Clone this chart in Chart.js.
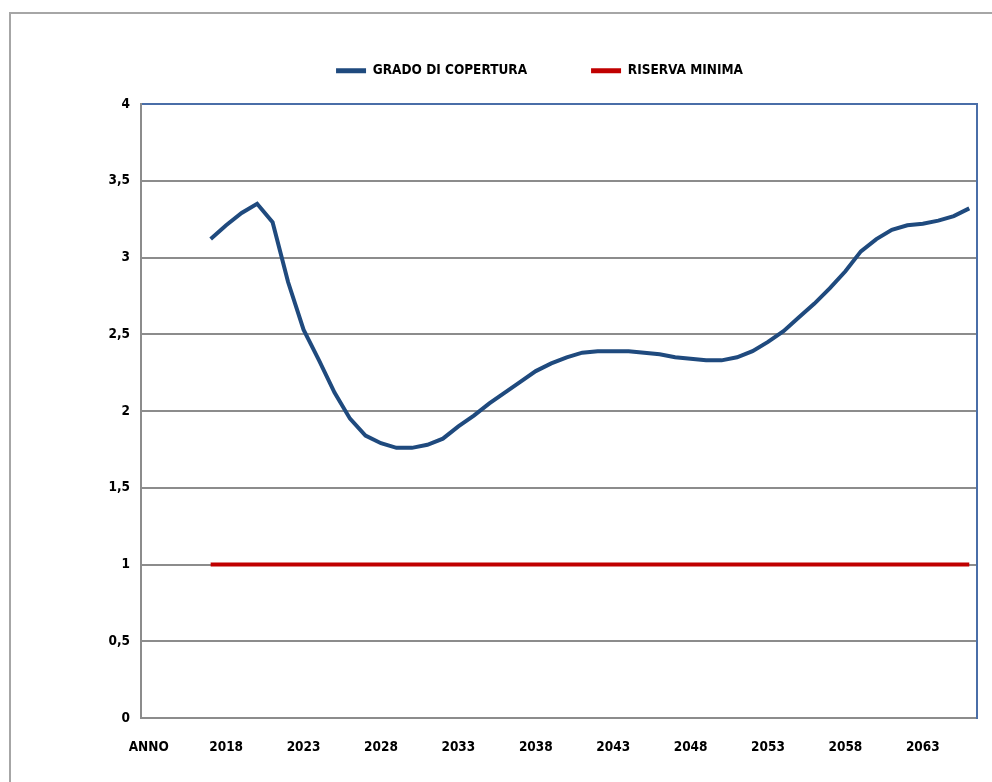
<!DOCTYPE html>
<html lang="it">
<head>
<meta charset="UTF-8">
<title>Grado di copertura</title>
<script src="https://cdn.jsdelivr.net/npm/chart.js"></script>
<style>
    body { margin: 0; padding: 0; background: #fff; overflow: hidden; }
    #wrap { position: relative; width: 992px; height: 782px; }
    #frame { position: absolute; left: 9px; top: 12px; width: 1000px; height: 800px; border: 2px solid #a6a6a6; box-sizing: border-box; }
    canvas { position: absolute; left: 0; top: 0; }
</style>
</head>
<body>
<div id="wrap">
    <div id="frame"></div>
    <canvas id="chart" width="992" height="782"></canvas>
</div>
<script>
// categorie: la prima e' l'intestazione "ANNO", poi gli anni
const anni = ['ANNO', '2014', '2015', '2016', '2017', '2018', '2019', '2020', '2021', '2022',
    '2023', '2024', '2025', '2026', '2027', '2028', '2029', '2030', '2031', '2032',
    '2033', '2034', '2035', '2036', '2037', '2038', '2039', '2040', '2041', '2042',
    '2043', '2044', '2045', '2046', '2047', '2048', '2049', '2050', '2051', '2052',
    '2053', '2054', '2055', '2056', '2057', '2058', '2059', '2060', '2061', '2062',
    '2063', '2064', '2065', '2066'];

// grado di copertura 2017-2066
const gradoCopertura = [null, null, null, null,
    3.12, 3.21, 3.29, 3.35, 3.23, 2.84, 2.53, 2.33, 2.12, 1.95,
    1.84, 1.79, 1.76, 1.76, 1.78, 1.82, 1.90, 1.97, 2.05, 2.12,
    2.19, 2.26, 2.31, 2.35, 2.38, 2.39, 2.39, 2.39, 2.38, 2.37,
    2.35, 2.34, 2.33, 2.33, 2.35, 2.39, 2.45, 2.52, 2.61, 2.70,
    2.80, 2.91, 3.04, 3.12, 3.18, 3.21, 3.22, 3.24, 3.27, 3.32];

// riserva minima 2017-2066
const riservaMinima = [null, null, null, null,
    1, 1, 1, 1, 1, 1, 1, 1, 1, 1,
    1, 1, 1, 1, 1, 1, 1, 1, 1, 1,
    1, 1, 1, 1, 1, 1, 1, 1, 1, 1,
    1, 1, 1, 1, 1, 1, 1, 1, 1, 1,
    1, 1, 1, 1, 1, 1, 1, 1, 1, 1];

const FONT = "'Liberation Sans Narrow', 'DejaVu Sans Condensed', 'Liberation Sans', sans-serif";
const FONT_SIZE = 13.5;
const GRIGIO = '#8c8c8c';
const BLU_BORDO = '#4a6ea8';

// altezza fissa per la legenda, cosi' l'area del grafico parte dove serve
const legendHeight = {
    id: 'legendHeight',
    beforeInit(chart) {
        const fit = chart.legend.fit;
        chart.legend.fit = function () {
            fit.bind(chart.legend)();
            this.height = 104;
        };
    }
};

new Chart(document.getElementById('chart').getContext('2d'), {
    type: 'line',
    data: {
        labels: anni,
        datasets: [
            { label: 'GRADO DI COPERTURA', data: gradoCopertura, borderColor: '#1f4a7e', backgroundColor: '#1f4a7e',
              borderWidth: 4, pointRadius: 0, tension: 0, fill: false, xAxisID: 'x', yAxisID: 'y' },
            { label: 'RISERVA MINIMA', data: riservaMinima, borderColor: '#c00000', backgroundColor: '#c00000',
              borderWidth: 4, pointRadius: 0, tension: 0, fill: false, xAxisID: 'x', yAxisID: 'y' }
        ]
    },
    options: {
        responsive: false,
        animation: false,
        layout: { padding: { left: 102, right: 15, top: 0, bottom: 0 } },
        plugins: {
            legend: {
                display: true,
                position: 'top',
                labels: {
                    boxWidth: 30, boxHeight: 5, padding: 64, color: '#000',
                    font: { family: FONT, size: FONT_SIZE, weight: 'bold' },
                    generateLabels: function (chart) {
                        const items = Chart.defaults.plugins.legend.labels.generateLabels(chart);
                        items.forEach(it => { it.lineWidth = 0; });
                        return items;
                    }
                }
            },
            tooltip: { enabled: false }
        },
        scales: {
            x: {
                type: 'category',
                position: 'bottom',
                offset: true,
                grid: { display: false, drawTicks: false },
                border: { display: true, color: GRIGIO, width: 2 },
                ticks: {
                    autoSkip: false, maxRotation: 0, padding: 21, color: '#000',
                    font: { family: FONT, size: FONT_SIZE, weight: 'bold' },
                    callback: function (val, index) { return index % 5 === 0 ? this.getLabelForValue(val) : ''; }
                },
                afterFit: function (s) { s.height = 64; }
            },
            xTop: {
                type: 'category',
                position: 'top',
                labels: anni,
                offset: true,
                grid: { display: false, drawTicks: false },
                border: { display: true, color: BLU_BORDO, width: 2 },
                ticks: { display: false },
                afterFit: function (s) { s.height = 0; }
            },
            y: {
                type: 'linear',
                position: 'left',
                min: 0, max: 4,
                grid: {
                    drawTicks: false, lineWidth: 2,
                    color: function (c) { return c.tick && c.tick.value === 4 ? 'rgba(0,0,0,0)' : GRIGIO; }
                },
                border: { display: true, color: GRIGIO, width: 2 },
                ticks: {
                    stepSize: 0.5, padding: 11, color: '#000',
                    font: { family: FONT, size: FONT_SIZE, weight: 'bold' },
                    callback: function (v) { return String(v).replace('.', ','); }
                },
                afterFit: function (s) { s.width = 39; }
            },
            yRight: {
                type: 'linear',
                position: 'right',
                min: 0, max: 4,
                grid: { display: false, drawTicks: false },
                border: { display: true, color: BLU_BORDO, width: 2 },
                ticks: { display: false },
                afterFit: function (s) { s.width = 0; }
            }
        }
    },
    plugins: [legendHeight]
});
</script>
</body>
</html>
